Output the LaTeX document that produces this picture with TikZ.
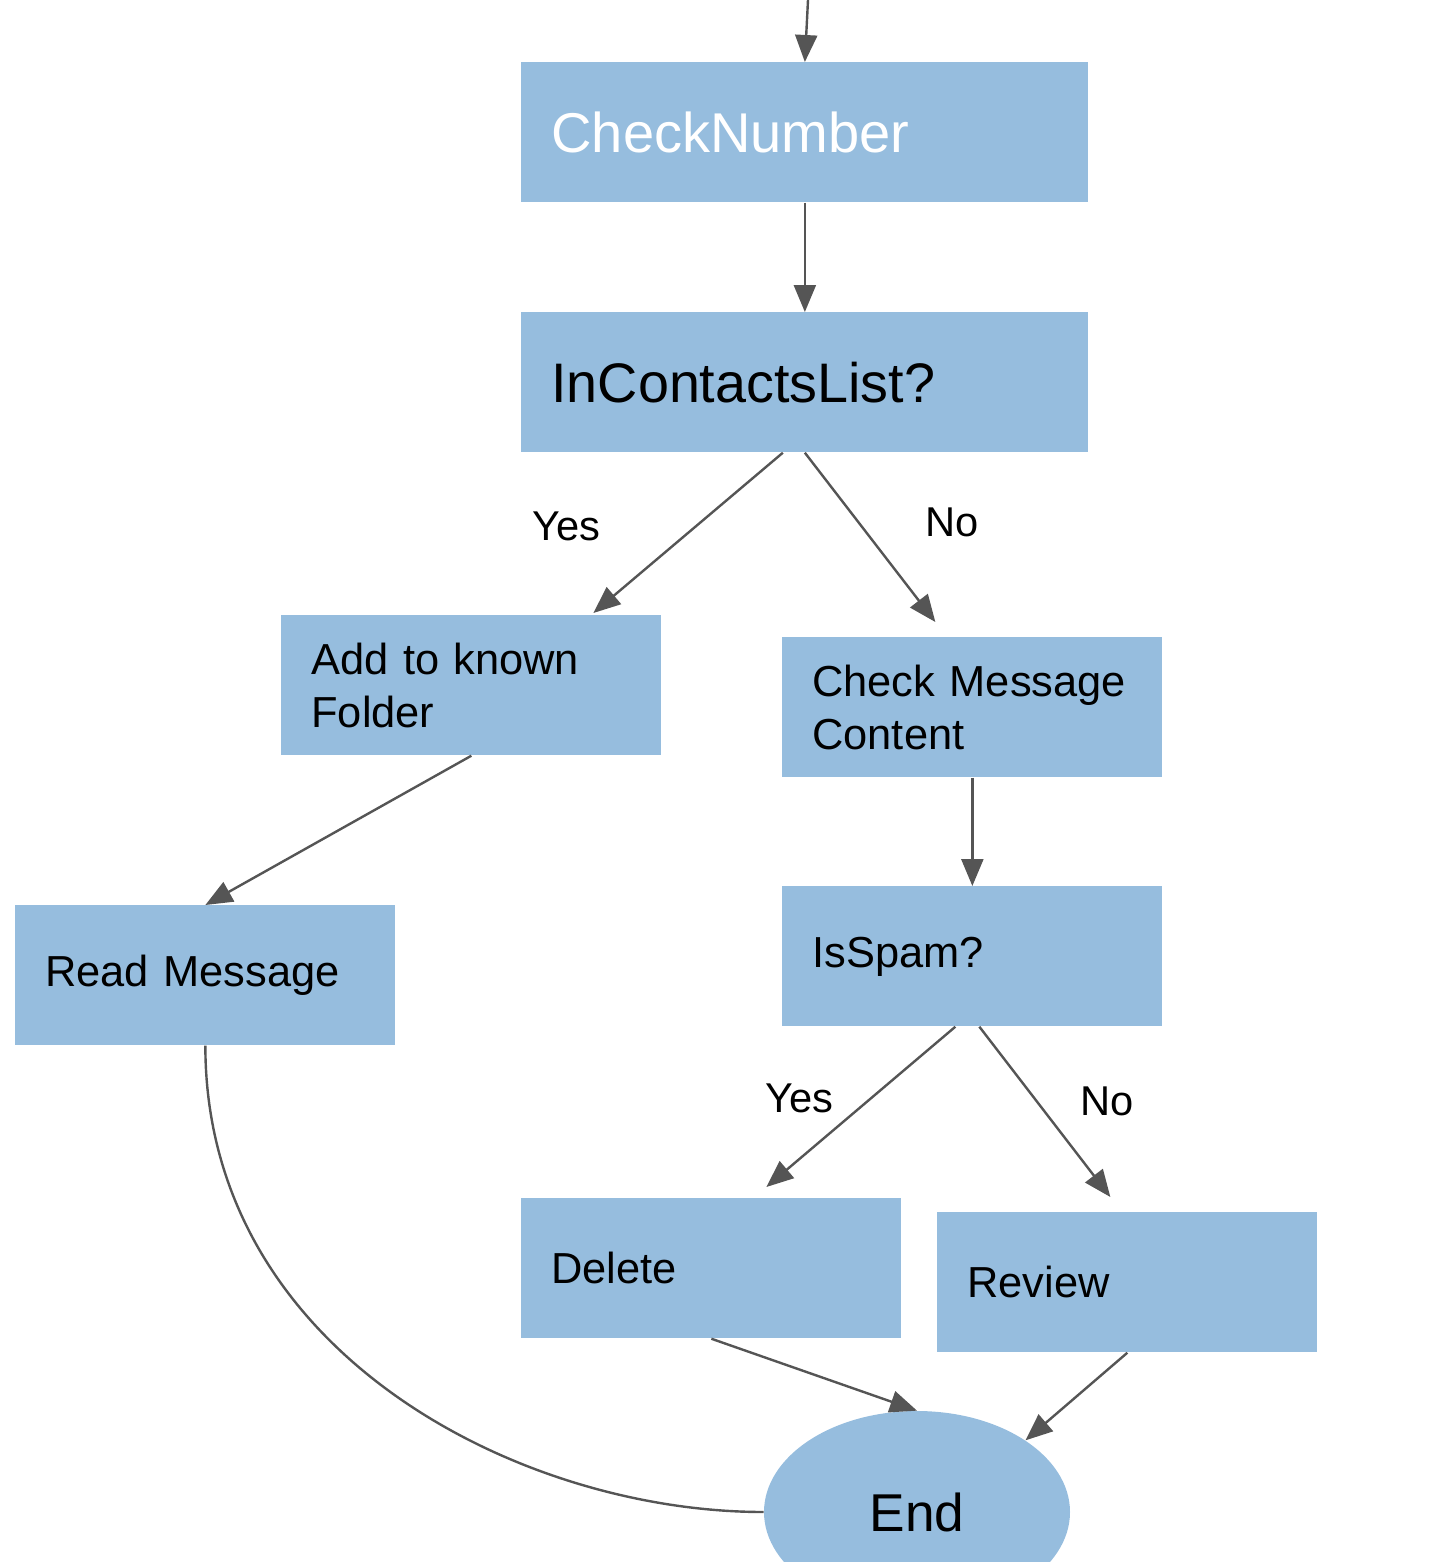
\documentclass[tikz,border=0pt]{standalone}
\usepackage{fontspec}
\setmainfont{Liberation Sans}
\usepackage{xcolor}
\usepackage{tikz}
\usetikzlibrary{arrows.meta,shapes.geometric,calc}
\definecolor{boxblue}{RGB}{150,189,222}
\definecolor{linegray}{RGB}{85,85,85}

\begin{document}
\begin{tikzpicture}
		[
			x=0.2mm,y=-0.2mm,
			every node/.style={inner sep=0pt},
			box/.style={rectangle,fill=boxblue,anchor=north west,minimum width=76mm,minimum height=28mm,
					text width=64mm,inner xsep=6mm,align=left,font=\fontsize{24.7}{30}\selectfont},
			widebox/.style={box,minimum width=113.4mm,text width=101.4mm},
			answer/.style={anchor=base,font=\fontsize{23.7}{28}\selectfont},
			flow/.style={draw=linegray,line width=0.48mm,-{Triangle[length=5.4mm,width=4.4mm]}}]
		\useasboundingbox (0,0) rectangle (1440,1562);
		\node[widebox,text=white,font=\fontsize{31.9}{38}\selectfont] (CheckNumber) at (521,62) {CheckNumber};
		\node[widebox,font=\fontsize{31.7}{38}\selectfont] (InContacts) at (521,312) {InContactsList?};
		\node[box] (AddKnown) at (281,615) {Add to known\\Folder};
		\node[box] (CheckContent) at (782,637) {Check Message\\Content};
		\node[box] (ReadMessage) at (15,905) {Read Message};
		\node[box] (IsSpam) at (782,886) {IsSpam?};
		\node[box] (Delete) at (521,1198) {Delete};
		\node[box] (Review) at (937,1212) {Review};
		\node[ellipse,fill=boxblue,minimum width=61.2mm,minimum height=40.4mm,
			font=\fontsize{30.3}{36}\selectfont] (End) at (917,1512) {End};
		% branch labels
		\node[answer] (YesContacts) at (566,540) {Yes};
		\node[answer] (NoContacts) at (952,536) {No};
		\node[answer] (YesSpam) at (799,1112) {Yes};
		\node[answer] (NoSpam) at (1107,1115) {No};
		% connectors
		\coordinate (Entry) at (808,0);
		\draw[flow] (Entry) -- (CheckNumber.north);
		\draw[flow] (CheckNumber.south) -- (InContacts.north);
		\draw[flow] ($(InContacts.south)+(-22,0)$) -- ($(AddKnown.north)+(122,-2)$);
		\draw[flow] (InContacts.south) -- ($(CheckContent.north)+(-37,-15)$);
		\draw[flow] (AddKnown.south) -- (ReadMessage.north);
		\draw[flow] (CheckContent.south) -- (IsSpam.north);
		\draw[flow] ($(IsSpam.south)+(-17,0)$) -- ($(Delete.north)+(55,-11)$);
		\draw[flow] ($(IsSpam.south)+(7,0)$) -- ($(Review.north)+(-17,-15)$);
		\draw[flow] (Delete.south) -- (End.north);
		\draw[flow] (Review.south) -- (End.north east);
		\draw[draw=linegray,line width=0.48mm] (ReadMessage.south) .. controls +(0,306) and +(-245,0) .. (End.west);
	\end{tikzpicture}
\end{document}
